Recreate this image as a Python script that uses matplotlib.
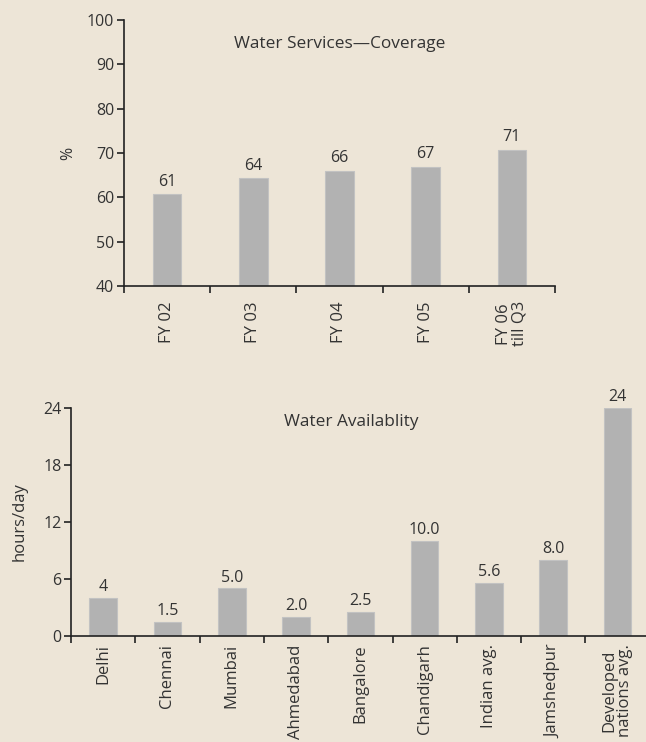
import numpy as np
from matplotlib import pyplot as plt

plt.rcParams['font.family'] = ['Open Sans', 'DejaVu Sans']
plt.rcParams['font.size'] = 12

# top chart: coverage
fy_labels = ['FY 02', 'FY 03', 'FY 04', 'FY 05', 'FY 06\ntill Q3']
coverage = [60.7, 64.3, 66.0, 66.9, 70.7]
coverage_txt = ['61', '64', '66', '67', '71']

# bottom chart: availability
cities = ['Delhi', 'Chennai', 'Mumbai', 'Ahmedabad', 'Bangalore', 'Chandigarh',
          'Indian avg.', 'Jamshedpur', 'Developed\nnations avg.']
hours = [4.0, 1.5, 5.0, 2.0, 2.5, 10.0, 5.6, 8.0, 24.0]
hours_txt = ['4', '1.5', '5.0', '2.0', '2.5', '10.0', '5.6', '8.0', '24']

bg = '#ede5d7'
bar_c = '#b2b2b2'
txt_c = '#333333'
line_c = '#222222'

fig = plt.figure(figsize=(6.46, 7.42), dpi=100, facecolor=bg)


def style(ax, n, xpad):
    ax.set_facecolor(bg)
    for s in ['top', 'right']:
        ax.spines[s].set_visible(False)
    for s in ['left', 'bottom']:
        ax.spines[s].set_color(line_c)
        ax.spines[s].set_linewidth(1.2)
    ax.set_xlim(0, n)
    ax.set_xticks(np.arange(n) + 0.5)
    ax.set_xticks(np.arange(n + 1), minor=True)
    ax.tick_params(axis='x', which='major', length=0, pad=xpad, colors=txt_c, labelsize=12)
    ax.tick_params(axis='x', which='minor', length=5, width=1.2, color=line_c, direction='out')
    ax.tick_params(axis='y', length=5, width=1.2, color=line_c, labelcolor=txt_c, pad=2, labelsize=11.5)


# top
ax1 = fig.add_axes([0.192, 0.6146, 0.667, 0.3584])
x1 = np.arange(len(coverage)) + 0.5
ax1.bar(x1, np.array(coverage) - 40, bottom=40, width=0.33, color=bar_c, edgecolor='#c2c2c2', linewidth=0.8)
for x, v, t in zip(x1, coverage, coverage_txt):
    ax1.text(x, v + 1.0, t, ha='center', va='bottom', color=txt_c, fontsize=11.5)
style(ax1, len(coverage), 11)
ax1.set_ylim(40, 100)
ax1.set_yticks(range(40, 101, 10))
ax1.set_xticklabels(fy_labels, rotation=90, va='top', ha='center', linespacing=0.95)
ax1.set_ylabel('%', color=txt_c, fontsize=11.5, labelpad=8)
ax1.text(0.5, 0.94, 'Water Services\u2014Coverage', transform=ax1.transAxes,
         ha='center', va='top', color=txt_c, fontsize=12.4)

# bottom
ax2 = fig.add_axes([0.110, 0.1429, 0.8957, 0.3071])
x2 = np.arange(len(hours)) + 0.5
ax2.bar(x2, hours, width=0.43, color=bar_c, edgecolor='#c2c2c2', linewidth=0.8)
for x, v, t in zip(x2, hours, hours_txt):
    ax2.text(x, v + 0.3, t, ha='center', va='bottom', color=txt_c, fontsize=11.5)
style(ax2, len(hours), 6)
ax2.set_ylim(0, 24)
ax2.set_yticks(range(0, 25, 6))
ax2.set_xticklabels(cities, rotation=90, va='top', ha='center', linespacing=0.95)
ax2.set_ylabel('hours/day', color=txt_c, fontsize=12, labelpad=11)
ax2.text(0.484, 0.975, 'Water Availablity', transform=ax2.transAxes,
         ha='center', va='top', color=txt_c, fontsize=12.4)

plt.savefig('out.png', dpi=100, facecolor=bg)
